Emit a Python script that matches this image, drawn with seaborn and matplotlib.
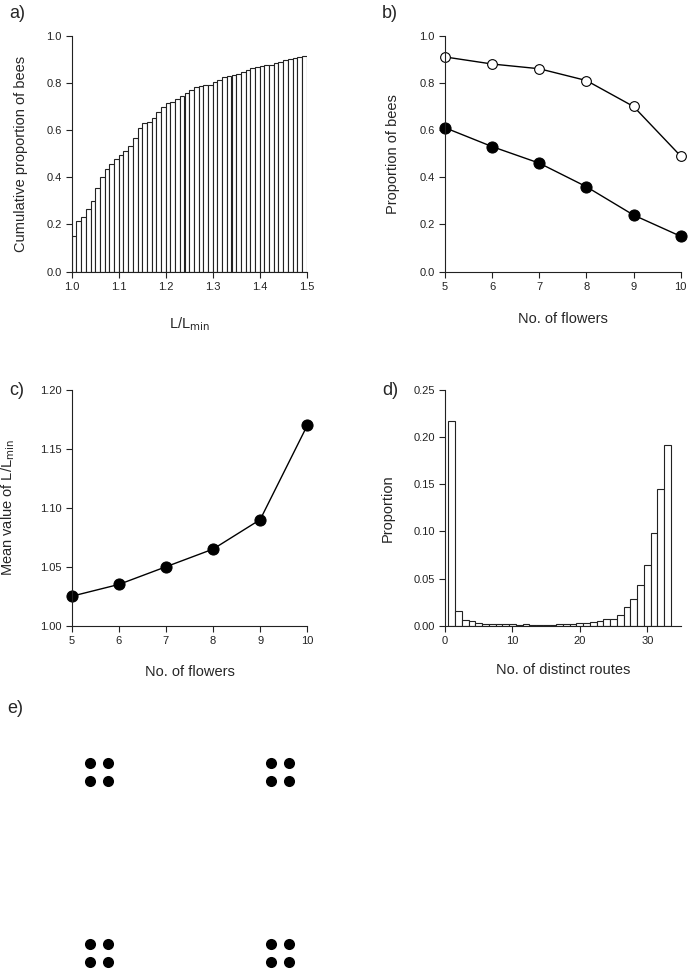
import numpy as np
import pandas as pd
import matplotlib
matplotlib.use("Agg")
import matplotlib.pyplot as plt
import seaborn as sns
from matplotlib.ticker import FormatStrFormatter

# a) cumulative proportion of bees per L/Lmin bin (bin width 0.01)
ratio_bins = np.round(np.arange(1.0, 1.5, 0.01), 2)
cum_prop = [0.150, 0.215, 0.230, 0.267, 0.298, 0.353, 0.400, 0.434, 0.455, 0.476,
            0.493, 0.510, 0.532, 0.565, 0.610, 0.631, 0.636, 0.650, 0.678, 0.696,
            0.713, 0.720, 0.732, 0.746, 0.756, 0.770, 0.781, 0.788, 0.790, 0.792,
            0.802, 0.812, 0.823, 0.829, 0.833, 0.839, 0.846, 0.855, 0.862, 0.867,
            0.871, 0.874, 0.877, 0.883, 0.890, 0.895, 0.900, 0.904, 0.910, 0.915]

# b) proportion of bees vs number of flowers
n_flowers = [5, 6, 7, 8, 9, 10]
prop_open = [0.91, 0.88, 0.86, 0.81, 0.70, 0.49]
prop_filled = [0.61, 0.53, 0.46, 0.36, 0.24, 0.15]

# c) mean L/Lmin
mean_ratio = [1.025, 1.035, 1.050, 1.065, 1.090, 1.170]

# d) distribution of number of distinct routes
n_routes = list(range(1, 34))
route_prop = [0.217, 0.0155, 0.006, 0.0048, 0.003, 0.002, 0.002, 0.0015, 0.0015, 0.0015,
              0.001, 0.002, 0.0008, 0.0008, 0.001, 0.0012, 0.0018, 0.0015, 0.002, 0.0025,
              0.0025, 0.0035, 0.0045, 0.007, 0.0075, 0.0115, 0.0195, 0.0285, 0.043, 0.064,
              0.098, 0.1445, 0.192]

# e) flower array layout
flower_x = [0, 1, 0, 1, 10, 11, 10, 11, 0, 1, 0, 1, 10, 11, 10, 11]
flower_y = [11, 11, 10, 10, 11, 11, 10, 10, 1, 1, 0, 0, 1, 1, 0, 0]

df_a = pd.DataFrame({"ratio": ratio_bins + 0.005, "prop": cum_prop})
df_d = pd.DataFrame({"routes": n_routes, "prop": route_prop})

sns.set_style("ticks")
plt.rcParams["font.family"] = ["Liberation Sans", "DejaVu Sans"]
plt.rcParams["xtick.labelsize"] = 8
plt.rcParams["ytick.labelsize"] = 8
plt.rcParams["axes.labelsize"] = 10.5
plt.rcParams["axes.edgecolor"] = "#222222"
plt.rcParams["axes.linewidth"] = 0.8
for k in ("xtick", "ytick"):
    plt.rcParams[k + ".major.size"] = 4.3
    plt.rcParams[k + ".major.width"] = 0.8
    plt.rcParams[k + ".major.pad"] = 3
    plt.rcParams[k + ".color"] = "#222222"

W, H = 691, 971
fig = plt.figure(figsize=(W / 100, H / 100), dpi=100)


def rect(x0, x1, y_top, y_bot):
    return [x0 / W, 1 - y_bot / H, (x1 - x0) / W, (y_bot - y_top) / H]


ax_a = fig.add_axes(rect(71.7, 306.7, 35.7, 271.7))
ax_b = fig.add_axes(rect(445, 680.7, 35.7, 271.7))
ax_c = fig.add_axes(rect(71.7, 307.3, 390, 625.7))
ax_d = fig.add_axes(rect(445, 681, 389.8, 625.7))
ax_e = fig.add_axes(rect(71.9, 452, 753.5, 970.75))

bar_kw = dict(color="white", edgecolor="#222222", linewidth=0.8, alpha=1)

# a)
sns.histplot(data=df_a, x="ratio", weights="prop",
             bins=list(np.linspace(1.0, 1.5, 51)), ax=ax_a, **bar_kw)
ax_a.set_xlim(1.0, 1.5)
ax_a.set_ylim(0, 1)
ax_a.set_xticks([1.0, 1.1, 1.2, 1.3, 1.4, 1.5])
ax_a.set_yticks([0, 0.2, 0.4, 0.6, 0.8, 1.0])
ax_a.xaxis.set_major_formatter(FormatStrFormatter("%.1f"))
ax_a.yaxis.set_major_formatter(FormatStrFormatter("%.1f"))
ax_a.set_xlabel(r"L/L$_{\mathrm{min}}$")
ax_a.set_ylabel("Cumulative proportion of bees")
ax_a.xaxis.set_label_coords(0.5, -0.183)
ax_a.yaxis.set_label_coords(-0.186, 0.5)

# b)
sns.lineplot(x=n_flowers, y=prop_open, ax=ax_b, color="black", lw=1, marker="o",
             markersize=7, markerfacecolor="white", markeredgecolor="black",
             markeredgewidth=0.8, clip_on=False)
sns.lineplot(x=n_flowers, y=prop_filled, ax=ax_b, color="black", lw=1, marker="o",
             markersize=8, markerfacecolor="black", markeredgecolor="black",
             clip_on=False)
ax_b.set_xlim(5, 10)
ax_b.set_ylim(0, 1)
ax_b.set_xticks(n_flowers)
ax_b.set_yticks([0, 0.2, 0.4, 0.6, 0.8, 1.0])
ax_b.yaxis.set_major_formatter(FormatStrFormatter("%.1f"))
ax_b.set_xlabel("No. of flowers")
ax_b.set_ylabel("Proportion of bees")
ax_b.xaxis.set_label_coords(0.5, -0.17)
ax_b.yaxis.set_label_coords(-0.191, 0.5)

# c)
sns.lineplot(x=n_flowers, y=mean_ratio, ax=ax_c, color="black", lw=1, marker="o",
             markersize=8, markerfacecolor="black", markeredgecolor="black",
             clip_on=False)
ax_c.set_xlim(5, 10)
ax_c.set_ylim(1.0, 1.2)
ax_c.set_xticks(n_flowers)
ax_c.set_yticks([1.0, 1.05, 1.1, 1.15, 1.2])
ax_c.yaxis.set_major_formatter(FormatStrFormatter("%.2f"))
ax_c.set_xlabel("No. of flowers")
ax_c.set_ylabel(r"Mean value of L/L$_{\mathrm{min}}$")
ax_c.xaxis.set_label_coords(0.5, -0.167)
ax_c.yaxis.set_label_coords(-0.232, 0.5)

# d)
sns.histplot(data=df_d, x="routes", weights="prop",
             bins=list(np.arange(0.5, 34.5, 1)), ax=ax_d, **bar_kw)
ax_d.set_xlim(0, 35)
ax_d.set_ylim(0, 0.25)
ax_d.set_xticks([0, 10, 20, 30])
ax_d.set_yticks([0, 0.05, 0.1, 0.15, 0.2, 0.25])
ax_d.yaxis.set_major_formatter(FormatStrFormatter("%.2f"))
ax_d.set_xlabel("No. of distinct routes")
ax_d.set_ylabel("Proportion")
ax_d.xaxis.set_label_coords(0.5, -0.158)
ax_d.yaxis.set_label_coords(-0.212, 0.5)

for ax in (ax_a, ax_b, ax_c, ax_d):
    sns.despine(ax=ax)

# e)
sns.scatterplot(x=flower_x, y=flower_y, ax=ax_e, s=64, color="black",
                edgecolor="black", linewidth=0, clip_on=False)
ax_e.set_xlim(-1, 20)
ax_e.set_ylim(-0.5, 11.5)
ax_e.axis("off")

# panel letters
for lab, x, y in [("a)", 9, 5), ("b)", 382, 5), ("c)", 9, 382),
                  ("d)", 382, 382), ("e)", 7, 700)]:
    fig.text(x / W, 1 - y / H, lab, fontsize=13, ha="left", va="top")

fig.savefig("out.png", dpi=100)
